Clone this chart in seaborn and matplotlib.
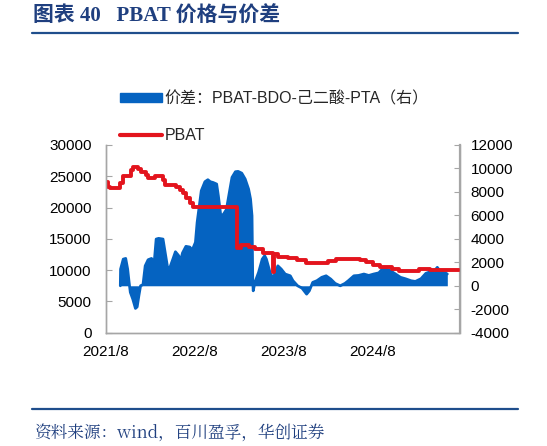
import matplotlib
matplotlib.use("Agg")
import matplotlib.pyplot as plt
from matplotlib.patches import Patch
from matplotlib.lines import Line2D
import seaborn as sns
import pandas as pd

# ---------------- data ----------------
pbat_dates = ["2021-08-05", "2021-08-12", "2021-08-20", "2021-09-28", "2021-10-12",
              "2021-11-12", "2021-11-20", "2021-12-10", "2021-12-25", "2022-01-12",
              "2022-01-22", "2022-02-18", "2022-03-22", "2022-04-01", "2022-05-18",
              "2022-06-01", "2022-06-15", "2022-06-28", "2022-07-12", "2022-07-26",
              "2023-01-22", "2023-02-08", "2023-03-10", "2023-04-05", "2023-05-10",
              "2023-06-19", "2023-06-22", "2023-07-10", "2023-08-20", "2023-09-25",
              "2023-11-01", "2024-01-28", "2024-03-01", "2024-06-10", "2024-07-05",
              "2024-08-01", "2024-09-01", "2024-10-20", "2024-11-15", "2025-02-05",
              "2025-03-25", "2025-04-15", "2025-07-20"]
pbat_values = [24100, 23300, 23100, 23900, 25000,
               26000, 26500, 26200, 25700, 25200,
               24700, 25050, 24400, 23600, 23300,
               22800, 22300, 21600, 20800, 20050,
               13500, 14000, 13700, 13300, 12700,
               9750, 12500, 12150, 11900, 11620,
               11190, 11500, 11730, 11620, 11350,
               10820, 10450, 10200, 9910, 10180,
               10050, 9950, 9950]

spread_dates = ["2021-09-30", "2021-10-01", "2021-10-12", "2021-10-22", "2021-10-30",
                "2021-11-05", "2021-11-10", "2021-11-20", "2021-12-01", "2021-12-08",
                "2021-12-15", "2021-12-22", "2022-01-01", "2022-01-10", "2022-01-22",
                "2022-02-05", "2022-02-16", "2022-02-24", "2022-03-06", "2022-03-24",
                "2022-04-04", "2022-04-15", "2022-04-22", "2022-05-04", "2022-05-14",
                "2022-05-26", "2022-06-05", "2022-06-12", "2022-06-26", "2022-07-12",
                "2022-07-22", "2022-08-04", "2022-08-11", "2022-08-20", "2022-08-28",
                "2022-09-12", "2022-09-24", "2022-10-04", "2022-10-16", "2022-10-30",
                "2022-11-06", "2022-11-16", "2022-11-27", "2022-12-09", "2022-12-20",
                "2023-01-01", "2023-01-15", "2023-01-26", "2023-02-10", "2023-02-24",
                "2023-03-10", "2023-03-18", "2023-03-24", "2023-03-27", "2023-03-29",
                "2023-04-05", "2023-04-20", "2023-05-05", "2023-05-15", "2023-05-22",
                "2023-06-06", "2023-06-18", "2023-06-28", "2023-07-08", "2023-07-22",
                "2023-08-07", "2023-08-28", "2023-09-08", "2023-09-27", "2023-10-15",
                "2023-11-03", "2023-11-14", "2023-11-28", "2023-12-15", "2024-01-04",
                "2024-01-22", "2024-02-10", "2024-02-28", "2024-03-20", "2024-04-08",
                "2024-04-22", "2024-05-15", "2024-06-03", "2024-06-25", "2024-07-15",
                "2024-08-04", "2024-08-25", "2024-09-08", "2024-09-20", "2024-10-12",
                "2024-11-02", "2024-11-22", "2024-12-12", "2025-01-04", "2025-01-22",
                "2025-02-14", "2025-03-06", "2025-03-18", "2025-04-07", "2025-04-22",
                "2025-05-05", "2025-05-25", "2025-06-02"]
spread_values = [0, 1420, 2270, 2330, 1420,
                 290, -560, -1130, -1930, -1800,
                 -850, 0, 100, 1700, 2220,
                 2330, 2000, 3980, 4040, 3980,
                 2560, 1140, 1600, 2300, 2900,
                 2600, 2200, 2800, 3360, 3300,
                 3050, 3700, 5400, 6820, 8100,
                 8870, 9040, 8870, 8800, 8670,
                 7670, 5970, 6100, 6500, 7820,
                 9240, 9720, 9750, 9600, 9100,
                 8240, 7390, 5970, 500, -430,
                 300, 1140, 2270, 2560, 2270,
                 1140, 630, 1140, 1700, 1420,
                 1000, 850, 430, 0, -200,
                 -710, -430, 290, 430, 720,
                 850, 570, 200, 0, 200,
                 430, 850, 880, 1000, 880,
                 1000, 1100, 1420, 1450, 1280,
                 1000, 720, 600, 430, 370,
                 600, 1060, 1150, 1200, 1570,
                 1200, 1100, 1000]

x_tick_dates = ["2021-08-01", "2022-08-01", "2023-08-01", "2024-08-01"]
x_tick_labels = ["2021/8", "2022/8", "2023/8", "2024/8"]
left_ticks = [0, 5000, 10000, 15000, 20000, 25000, 30000]
right_ticks = [-4000, -2000, 0, 2000, 4000, 6000, 8000, 10000, 12000]

title_text = "图表 40   PBAT 价格与价差"
legend_labels = ["价差：PBAT-BDO-己二酸-PTA（右）", "PBAT"]
source_text = "资料来源：wind，百川盈孚，华创证券"

# ---------------- style ----------------
sns.set_theme(style="white")
plt.rcParams["font.family"] = ["Liberation Sans", "Noto Sans CJK SC", "DejaVu Sans"]
plt.rcParams["axes.unicode_minus"] = False

BLUE = "#0563C1"
RED = "#E3141D"
NAVY = "#1F3F7F"
SPINE = "#A6A6A6"

pbat_df = pd.DataFrame({"date": pd.to_datetime(pbat_dates), "value": pbat_values})
spread_df = pd.DataFrame({"date": pd.to_datetime(spread_dates), "value": spread_values})

fig = plt.figure(figsize=(5.47, 4.46), dpi=100)
ax = fig.add_axes([105.7 / 547, 1 - 332.7 / 446, (459.5 - 105.7) / 547, (332.7 - 145) / 446])
ax2 = ax.twinx()

# blue spread area on the right axis
ax2.fill_between(spread_df["date"], 0, spread_df["value"], color=BLUE, linewidth=0)
sns.lineplot(data=spread_df, x="date", y="value", ax=ax2, color=BLUE,
             linewidth=2.0, estimator=None, sort=False)

# red PBAT line on the left axis, drawn on top
sns.lineplot(data=pbat_df, x="date", y="value", ax=ax, color=RED, linewidth=2.8,
             estimator=None, sort=False, drawstyle="steps-post")
ax.set_zorder(ax2.get_zorder() + 1)
ax.patch.set_visible(False)

ax.set_xlim(pd.Timestamp("2021-08-01"), pd.Timestamp("2025-07-22"))
ax.set_ylim(0, 30000)
ax2.set_ylim(-4000, 12000)
ax.set_yticks(left_ticks)
ax2.set_yticks(right_ticks)
ax.set_xticks(pd.to_datetime(x_tick_dates))
ax.set_xticklabels(x_tick_labels)
ax.set_xlabel("")
ax.set_ylabel("")
ax2.set_ylabel("")

for a in (ax, ax2):
    for s in a.spines.values():
        s.set_color(SPINE)
        s.set_linewidth(1.0)
    a.spines["top"].set_visible(False)
    a.tick_params(direction="in", length=4, width=0.8, color=SPINE,
                  labelsize=11, labelcolor="black")
    a.grid(False)
ax.tick_params(axis="y", pad=10)
ax.tick_params(axis="x", pad=8.5)
ax2.tick_params(axis="y", pad=8)
ax2.spines["right"].set_linewidth(1.6)

# legend
handles = [Patch(facecolor=BLUE, edgecolor=BLUE),
           Line2D([0], [0], color=RED, linewidth=3)]
fig.legend(handles, legend_labels, loc="upper left",
           bbox_to_anchor=(120 / 547, 1 - 91 / 446), frameon=False,
           fontsize=11.5, handlelength=2.6, handleheight=0.55, handletextpad=0.2,
           labelspacing=1.35, borderpad=0, borderaxespad=0)

# title and decorative lines
fig.text(33 / 547, 1 - 17 / 446, title_text, ha="left", va="center",
         fontsize=15, fontweight="bold", color=NAVY,
         family=["Liberation Serif", "Noto Sans CJK SC"])
fig.add_artist(Line2D([32 / 547, 518 / 547], [1 - 32.5 / 446, 1 - 32.5 / 446],
                      color="#1F4E8C", linewidth=1.6))
fig.add_artist(Line2D([32 / 547, 518 / 547], [1 - 408.5 / 446, 1 - 408.5 / 446],
                      color="#1F4E8C", linewidth=1.6))
fig.text(35 / 547, 1 - 433 / 446, source_text, ha="left", va="center",
         fontsize=12, style="italic", color=NAVY,
         family=["Noto Serif CJK SC", "Noto Sans CJK SC", "DejaVu Serif"])

fig.savefig("out.png", dpi=100)
